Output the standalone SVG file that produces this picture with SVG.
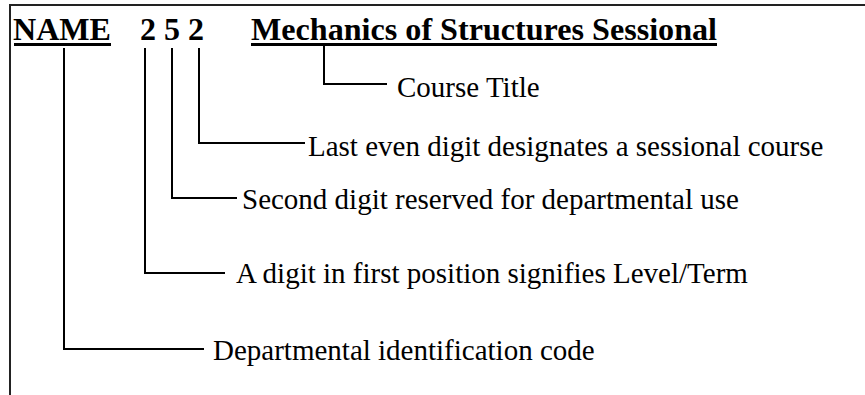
<svg xmlns="http://www.w3.org/2000/svg" width="865" height="395" viewBox="0 0 865 395">
<style>
.b{font-family:"Liberation Serif","Times New Roman",serif;font-weight:bold;font-size:32px;fill:#000}
.t{font-family:"Liberation Serif","Times New Roman",serif;font-size:29px;fill:#000}
.c{fill:none;stroke:#000;stroke-width:2;stroke-linejoin:miter;stroke-linecap:butt}
.u{stroke:#000;stroke-width:3}
</style>
<rect width="865" height="395" fill="#fff"/>
<g id="frame">
<path d="M10,395 V5 H865" fill="none" stroke="#222" stroke-width="2"/>
</g>
<g id="code">
<text class="b" x="13" y="39.5" textLength="98" lengthAdjust="spacingAndGlyphs">NAME</text>
<line class="u" x1="14" y1="44.5" x2="111" y2="44.5"/>
<text class="b" x="140" y="39.5">2 5 2</text>
</g>
<g id="title">
<text class="b" x="251" y="39.5" textLength="466" lengthAdjust="spacingAndGlyphs">Mechanics of Structures Sessional</text>
<line class="u" x1="251" y1="44.5" x2="717" y2="44.5"/>
</g>
<g id="lbl-course"><text class="t" x="397" y="97">Course Title</text></g>
<g id="lbl-last"><text class="t" x="308" y="155.5">Last even digit designates a sessional course</text></g>
<g id="lbl-second"><text class="t" x="242" y="209">Second digit reserved for departmental use</text></g>
<g id="lbl-first"><text class="t" x="236" y="283">A digit in first position signifies Level/Term</text></g>
<g id="lbl-dept"><text class="t" x="213" y="360">Departmental identification code</text></g>
<g id="connectors">
<path class="c" d="M324,46 V84 H387"/>
<path class="c" d="M199,48 V143 H305"/>
<path class="c" d="M172,48 V198 H237"/>
<path class="c" d="M145,48 V273 H225"/>
<path class="c" d="M64,48 V349 H204"/>
</g>
</svg>
